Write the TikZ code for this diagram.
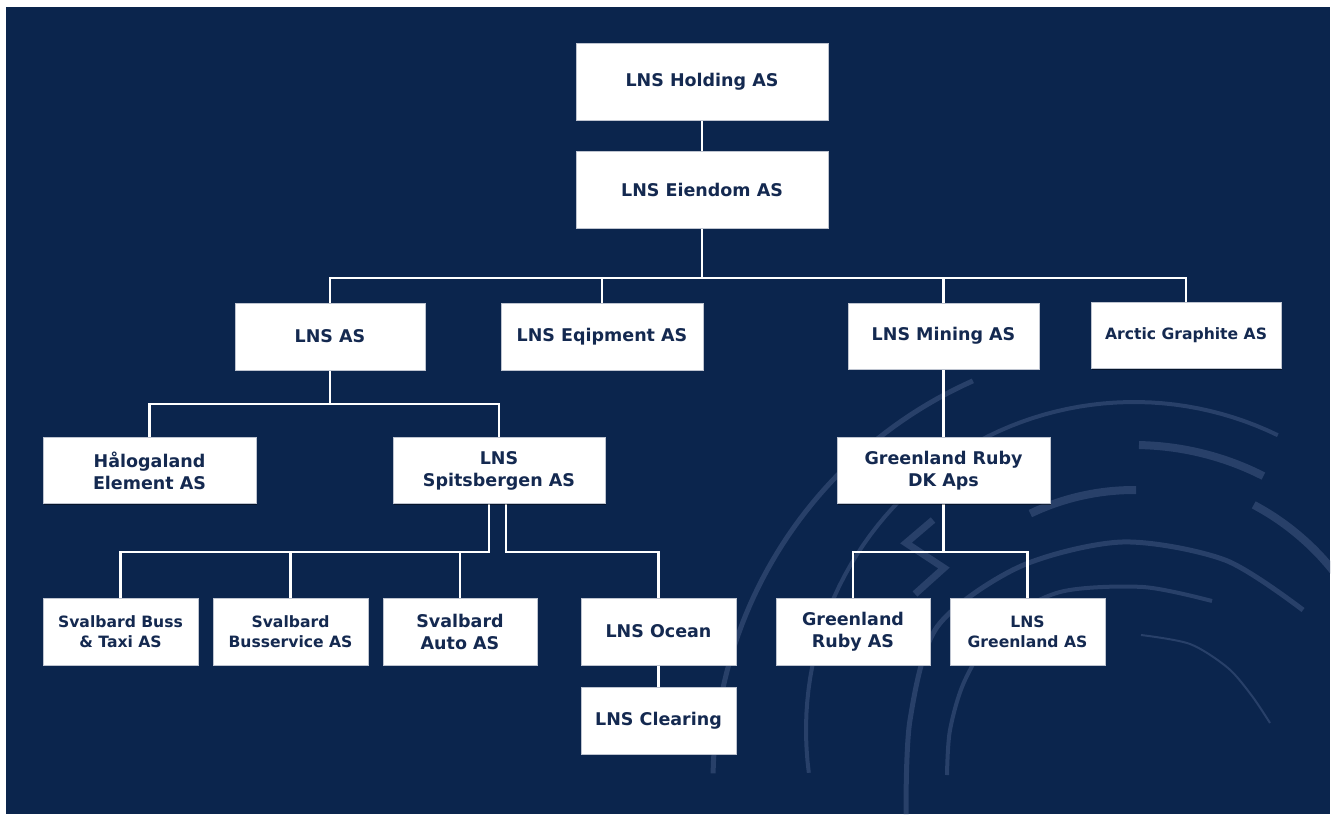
\documentclass[tikz,border=0pt]{standalone}
\usepackage{fontspec}
\setmainfont{DejaVu Sans}
\usetikzlibrary{shadows}
\definecolor{bgnavy}{RGB}{11,37,77}
\definecolor{txtnavy}{RGB}{20,41,80}
\definecolor{arccol}{RGB}{40,64,105}
\definecolor{boxedge}{RGB}{190,196,208}
\pgfdeclarelayer{bg}
\pgfsetlayers{bg,main}
\begin{document}
\begin{tikzpicture}[x=1pt,y=-1pt,
  orgbox/.style={draw=boxedge, line width=0.8pt, fill=white, text=txtnavy, align=center, inner sep=0pt,
    font=\bfseries\fontsize{17.5}{22}\selectfont,
    drop shadow={shadow xshift=1.2pt, shadow yshift=-1.2pt, opacity=0.45, fill=black}},
  smalltext/.style={font=\bfseries\fontsize{15.6}{20}\selectfont},
  conn/.style={draw=white, line width=2.4pt},
  deco/.style={draw=arccol, line cap=butt}
]
\useasboundingbox (0,0) rectangle (1335,814);

% boxes
\node[orgbox, minimum width=252pt, minimum height=77pt] (hold) at (702,81.5) {LNS Holding AS};
\node[orgbox, minimum width=252pt, minimum height=77pt] (eien) at (702,189.5) {LNS Eiendom AS};
\node[orgbox, minimum width=190pt, minimum height=67pt] (lnsas) at (330,336.5) {LNS AS};
\node[orgbox, minimum width=202pt, minimum height=67pt] (eqip) at (602,336.5) {LNS Eqipment AS};
\node[orgbox, minimum width=191pt, minimum height=66pt] (mining) at (943.5,336) {LNS Mining AS};
\node[orgbox, smalltext, minimum width=190pt, minimum height=66pt] (arctic) at (1186,335.5) {Arctic Graphite AS};
\node[orgbox, minimum width=213pt, minimum height=66pt] (halo) at (149.5,470.5) {Hålogaland\\Element AS};
\node[orgbox, minimum width=212pt, minimum height=66pt] (spits) at (499,470.5) {LNS\\Spitsbergen AS};
\node[orgbox, minimum width=213pt, minimum height=66pt] (grdk) at (943.5,470.5) {Greenland Ruby\\DK Aps};
\node[orgbox, smalltext, minimum width=155pt, minimum height=67pt] (buss) at (120.5,631.5) {Svalbard Buss\\\& Taxi AS};
\node[orgbox, smalltext, minimum width=155pt, minimum height=67pt] (busserv) at (290.5,631.5) {Svalbard\\Busservice AS};
\node[orgbox, minimum width=154pt, minimum height=67pt] (auto) at (460,631.5) {Svalbard\\Auto AS};
\node[orgbox, minimum width=155pt, minimum height=67pt] (ocean) at (658.5,631.5) {LNS Ocean};
\node[orgbox, minimum width=155pt, minimum height=67pt] (clear) at (658.5,720.5) {LNS Clearing};
\node[orgbox, minimum width=154pt, minimum height=67pt] (grruby) at (853,631.5) {Greenland\\Ruby AS};
\node[orgbox, smalltext, minimum width=155pt, minimum height=67pt] (lnsgr) at (1027.5,631.5) {LNS\\Greenland AS};

\coordinate (bus1) at (702,278);
\coordinate (bus2) at (330,404);
\coordinate (bus3) at (943.5,552);
\coordinate (sL) at (489,552);
\coordinate (sR) at (506,552);

\begin{pgfonlayer}{bg}
\fill[white] (0,0) rectangle (1335,814);
\fill[bgnavy] (6,7) rectangle (1330,814);
\begin{scope}
\clip (6,7) rectangle (1330,814);
% decorative arcs
\draw[deco, line width=5pt] plot[domain=181:246, samples=50] ({1151+438*cos(\x)},{781+438*sin(\x)});
\draw[deco, line width=4pt] plot[domain=172.5:296, samples=60] ({1134+328*cos(\x)},{730+328*sin(\x)});
\draw[deco, line width=8pt] plot[domain=271:297, samples=20] ({1134+285*cos(\x)},{730+285*sin(\x)});
\draw[deco, line width=8pt] plot[domain=244.4:270.5, samples=20] ({1134+240*cos(\x)},{730+240*sin(\x)});
\draw[deco, line width=8pt] plot[domain=298:322, samples=20] ({1134+255*cos(\x)},{730+255*sin(\x)});
\draw[deco, line width=5pt] plot[smooth] coordinates {(1303,610) (1225,560) (1122,542) (1019,567) (937,627) (910,720) (906,814)};
\draw[deco, line width=4pt] plot[smooth] coordinates {(1212,601) (1143,587) (1060,592) (1000,625) (965,680) (950,730) (947,775)};
\draw[deco, line width=2pt] plot[smooth] coordinates {(1141,635) (1190,644) (1228,668) (1252,696) (1270,723)};
\draw[deco, line width=7pt, line join=miter] (933,520) -- (906,543) -- (944,568) -- (915,594);
\end{scope}
% connectors
\draw[conn] (hold) -- (eien);
\draw[conn] (eien.south) -- (bus1);
\draw[conn] (lnsas.north) |- (bus1) -| (arctic.north);
\draw[conn] (eqip.north) |- (bus1);
\draw[conn] (mining.north) |- (bus1);
\draw[conn] (lnsas.south) -- (bus2);
\draw[conn] (halo.north) |- (bus2) -| (spits.north);
\draw[conn] (spits.south -| sL) -- (sL) -| (buss.north);
\draw[conn] (busserv.north) |- (sL);
\draw[conn] (auto.north) |- (sL);
\draw[conn] (spits.south -| sR) -- (sR) -| (ocean.north);
\draw[conn] (ocean) -- (clear);
\draw[conn] (mining) -- (grdk);
\draw[conn] (grdk.south) -- (bus3);
\draw[conn] (grruby.north) |- (bus3) -| (lnsgr.north);
\end{pgfonlayer}
\end{tikzpicture}
\end{document}
